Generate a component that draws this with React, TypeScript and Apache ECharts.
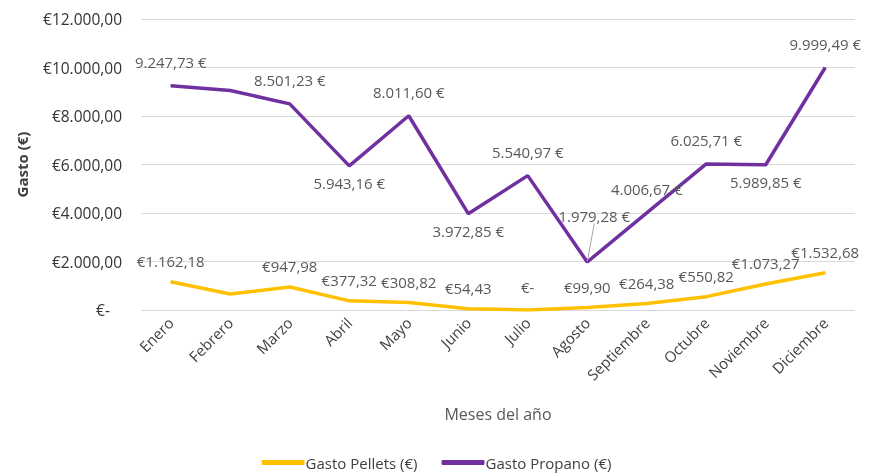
import React, { useEffect, useRef } from "react";
import * as echarts from "echarts";

const months = ["Enero", "Febrero", "Marzo", "Abril", "Mayo", "Junio", "Julio", "Agosto", "Septiembre", "Octubre", "Noviembre", "Diciembre"];
const pellets = [1162.18, 660, 947.98, 377.32, 308.82, 54.43, 0, 99.9, 264.38, 550.82, 1073.27, 1532.68];
const propano = [9247.73, 9050, 8501.23, 5943.16, 8011.6, 3972.85, 5540.97, 1979.28, 4006.67, 6025.71, 5989.85, 9999.49];
// which points carry a label, and where
const pelletsLabeled = [true, false, true, true, true, true, true, true, true, true, true, true];
const propanoLabeled = [true, false, true, true, true, true, true, true, true, true, true, true];
const propanoBelow = [false, false, false, true, false, true, false, false, false, false, true, false];
const propanoLeader = [false, false, false, false, false, false, false, true, false, false, false, false];

const FONT = "'Open Sans', sans-serif";

function fmtThousands(v: number, dec: number): string {
  const parts = v.toFixed(dec).split(".");
  const int = parts[0].replace(/\B(?=(\d{3})+(?!\d))/g, ".");
  return dec > 0 ? int + "," + parts[1] : int;
}

export default function App() {
  const ref = useRef<HTMLDivElement>(null);
  useEffect(() => {
    if (!ref.current) return;
    const chart = echarts.init(ref.current, undefined, { renderer: "svg" });
    const labelStyle = { fontFamily: FONT, fontSize: 15, color: "#595959" };
    const pelletsData = pellets.map((v, i) => ({
      value: v,
      label: {
        show: pelletsLabeled[i],
        position: "top",
        distance: v === 0 ? 15 : 13,
        ...labelStyle,
        formatter: () => (v === 0 ? "€-" : "€" + fmtThousands(v, 2)),
      },
    }));
    const propanoData = propano.map((v, i) => ({
      value: v,
      label: {
        show: propanoLabeled[i],
        position: propanoBelow[i] ? "bottom" : "top",
        distance: propanoBelow[i] ? 9 : 16,
        ...labelStyle,
        formatter: () => fmtThousands(v, 2) + " €",
      },
      labelLine: { show: propanoLeader[i], lineStyle: { color: "#a6a6a6", width: 1 } },
    }));
    chart.setOption({
      animation: false,
      grid: { left: 141, right: 18, top: 19, bottom: 166 },
      legend: {
        top: 450,
        left: "center",
        itemWidth: 43,
        itemHeight: 5,
        itemGap: 24,
        icon: "roundRect",
        textStyle: { fontFamily: FONT, fontSize: 15, color: "#404040", padding: [0, 0, 0, -4] },
        data: ["Gasto Pellets (€)", "Gasto Propano (€)"],
      },
      xAxis: {
        type: "category",
        data: months,
        boundaryGap: true,
        name: "Meses del año",
        nameLocation: "middle",
        nameGap: 96,
        nameTextStyle: { fontFamily: FONT, fontSize: 16, color: "#595959" },
        axisLine: { show: false },
        axisTick: { show: false },
        axisLabel: { rotate: 45, margin: 10, fontFamily: FONT, fontSize: 15, color: "#404040", interval: 0 },
      },
      yAxis: {
        type: "value",
        min: 0,
        max: 12000,
        interval: 2000,
        name: "Gasto (€)",
        nameLocation: "middle",
        nameGap: 112,
        nameTextStyle: { fontFamily: FONT, fontSize: 15, fontWeight: "bold", color: "#404040" },
        axisLine: { show: false },
        axisTick: { show: false },
        splitLine: { lineStyle: { color: "#d9d9d9", width: 1 } },
        axisLabel: {
          margin: 19,
          fontFamily: FONT,
          fontSize: 15.5,
          color: "#333333",
          formatter: (v: number) => (v === 0 ? "€-   " : "€" + fmtThousands(v, 2)),
        },
      },
      series: [
        {
          name: "Gasto Pellets (€)",
          type: "line",
          data: pelletsData,
          symbol: "circle",
          symbolSize: 1,
          showSymbol: true,
          lineStyle: { color: "#FFC000", width: 3.5 },
          itemStyle: { color: "#FFC000" },
        },
        {
          name: "Gasto Propano (€)",
          type: "line",
          data: propanoData,
          symbol: "circle",
          symbolSize: 1,
          showSymbol: true,
          lineStyle: { color: "#7030A0", width: 3.5 },
          itemStyle: { color: "#7030A0" },
          labelLine: { show: false, lineStyle: { color: "#a6a6a6", width: 1 } },
          labelLayout: (p: any) => (p.dataIndex === 7 ? { dx: 7, dy: -22 } : {}),
        },
      ],
    });
    return () => chart.dispose();
  }, []);
  return <div ref={ref} style={{ position: "fixed", left: 0, top: 0, width: 873, height: 476 }} />;
}
